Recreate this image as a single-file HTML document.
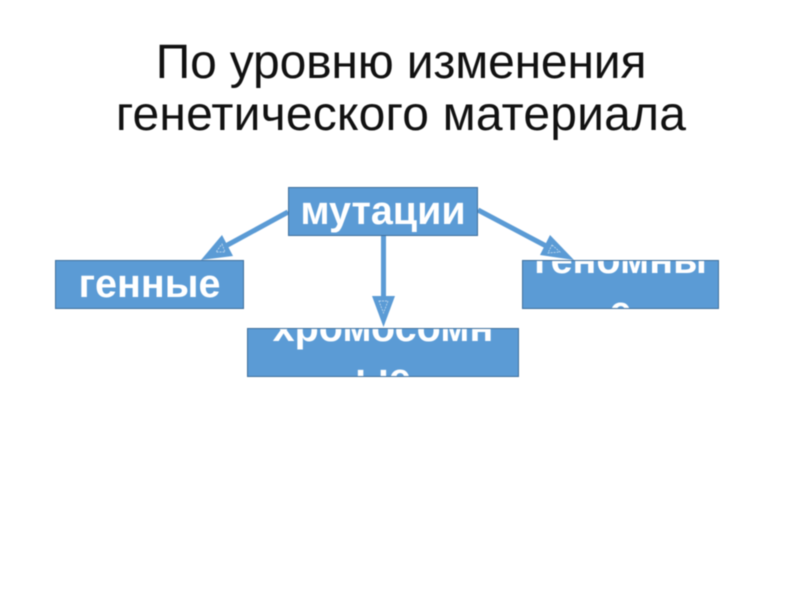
<!DOCTYPE html>
<html lang="ru">
<head>
<meta charset="utf-8">
<style>
html,body{margin:0;padding:0;width:800px;height:600px;background:#fff;overflow:hidden}
body{position:relative;font-family:"Liberation Sans","DejaVu Sans",sans-serif;filter:blur(0.4px)}
.t{position:absolute;left:0;width:800px;text-align:center;font-size:48px;line-height:52px;color:#111;white-space:nowrap}
.b{position:absolute;box-sizing:border-box;background:#5b9bd5;border:1px solid #3f6f9c;overflow:hidden;color:#fff;font-weight:bold;font-size:39.5px;line-height:49px;text-align:center}
.b span{position:absolute;left:0;right:0;white-space:nowrap}
svg{position:absolute;left:0;top:0}
</style>
</head>
<body>
<div class="t" style="top:37px;left:1px;letter-spacing:-0.17px">По уровню изменения</div>
<div class="t" style="top:89px;left:1px;letter-spacing:0.2px">генетического материала</div>
<svg width="800" height="600" viewBox="0 0 800 600">
  <g stroke="#5b9bd5" stroke-width="5" fill="#5b9bd5">
    <line x1="288" y1="212" x2="222" y2="248"/>
    <line x1="383.5" y1="236" x2="383.5" y2="297"/>
    <line x1="478" y1="210" x2="548" y2="247"/>
  </g>
  <g fill="#5b9bd5">
    <polygon points="201,260 222,235 233,256"/>
    <polygon points="383.5,327 372,296 395,296"/>
    <polygon points="574,260 550,235 540,255"/>
  </g>
  <g fill="none" stroke="#cfe2f3" stroke-width="0.7" stroke-dasharray="2 1">
    <polygon points="222,244 225,252 216,252"/>
    <polygon points="379,301 388,301 383.5,313"/>
    <polygon points="552,245 560,252 548,253"/>
  </g>
</svg>
<div class="b" style="left:288px;top:187px;width:190px;height:49px"><span style="top:-1px">мутации</span></div>
<div class="b" style="left:55px;top:260px;width:189px;height:49px"><span style="top:-1px">генные</span></div>
<div class="b" style="left:247px;top:328px;width:272px;height:49px"><span style="top:-25px">хромосомн</span><span style="top:25px">ые</span></div>
<div class="b" style="left:522px;top:260px;width:197px;height:49px"><span style="top:-25px">геномны</span><span style="top:26px">е</span></div>
</body>
</html>
